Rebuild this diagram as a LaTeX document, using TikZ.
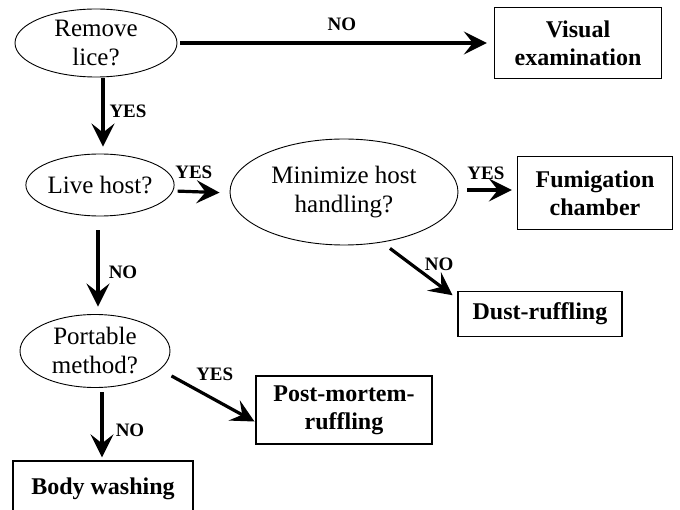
\documentclass[tikz,border=0pt]{standalone}
\usepackage{fontspec}
\setmainfont{Liberation Serif}
\usetikzlibrary{arrows.meta,shapes.geometric}
\begin{document}
\begin{tikzpicture}[x=1pt,y=-1pt,
  q/.style={draw, ellipse, line width=0.9pt, inner sep=0pt, align=center, font=\fontsize{25}{29}\selectfont},
  res/.style={draw, rectangle, line width=1.3pt, inner sep=0pt, align=center, font=\bfseries\fontsize{24}{28}\selectfont},
  arr/.style={line width=3.2pt, -{Stealth[length=23pt,width=23pt,inset=9pt]}},
  lbl/.style={font=\bfseries\fontsize{19}{22}\selectfont, inner sep=0pt}]
\clip (0,0) rectangle (680,510);
\fill[white] (0,0) rectangle (680,510);
% nodes
\node[q, minimum width=162pt, minimum height=68pt] (rl) at (96,43) {Remove\\lice?};
\node[res, minimum width=167pt, minimum height=71pt] (ve) at (578,43) {Visual\\examination};
\node[q, minimum width=140pt, minimum height=62pt] (lh) at (100,185) {Live host?};
\node[q, minimum width=228pt, minimum height=106pt] (mh) at (344,192) {Minimize host\\handling?};
\node[res, minimum width=155pt, minimum height=73pt] (fc) at (595,193) {Fumigation\\chamber};
\node[res, minimum width=164pt, minimum height=45pt] (ds) at (540,314) {Dust-ruffling};
\node[q, minimum width=150pt, minimum height=73pt] (pm) at (95,351) {Portable\\method?};
\node[res, minimum width=176pt, minimum height=68pt] (pmr) at (344,410) {Post-mortem-\\ruffling};
\node[res, minimum width=180pt, minimum height=56pt] (bw) at (103,489) {Body washing};
% connectors
\draw[arr, shorten <=3pt, shorten >=7pt] (rl.east) -- (ve.west)
  node[lbl, pos=0.52, yshift=19pt] {NO};
\draw[arr, shorten <=1pt, shorten >=7pt] ([xshift=7pt]rl.south) -- ([xshift=3pt]lh.north)
  node[lbl, pos=0.45, xshift=25pt] {YES};
\draw[arr, shorten <=3pt, shorten >=10pt] ([yshift=-6pt]lh.east) -- ([yshift=-1pt]mh.west)
  node[lbl, pos=0.35, yshift=19pt] {YES};
\draw[arr, shorten <=9pt, shorten >=5pt] ([yshift=2pt]mh.east) -- ([yshift=3pt]fc.west)
  node[lbl, pos=0.47, yshift=17pt] {YES};
\draw[arr, shorten <=10pt, shorten >=6pt] (mh.-53) -- ([yshift=-8pt]ds.north west)
  node[lbl, pos=0.6, xshift=12pt, yshift=12pt] {NO};
\draw[arr, shorten <=14pt, shorten >=7.5pt] ([xshift=-2pt]lh.south) -- ([xshift=3pt]pm.north)
  node[lbl, pos=0.57, xshift=25pt] {NO};
\draw[arr, shorten <=13pt, shorten >=1pt] (pm.-16) -- ([yshift=-12pt]pmr.west)
  node[lbl, pos=0.5, xshift=7pt, yshift=22pt] {YES};
\draw[arr, shorten <=4.5pt, shorten >=3pt] ([xshift=7pt]pm.south) -- ([xshift=-1pt]bw.north)
  node[lbl, pos=0.58, xshift=28pt] {NO};
\end{tikzpicture}
\end{document}
